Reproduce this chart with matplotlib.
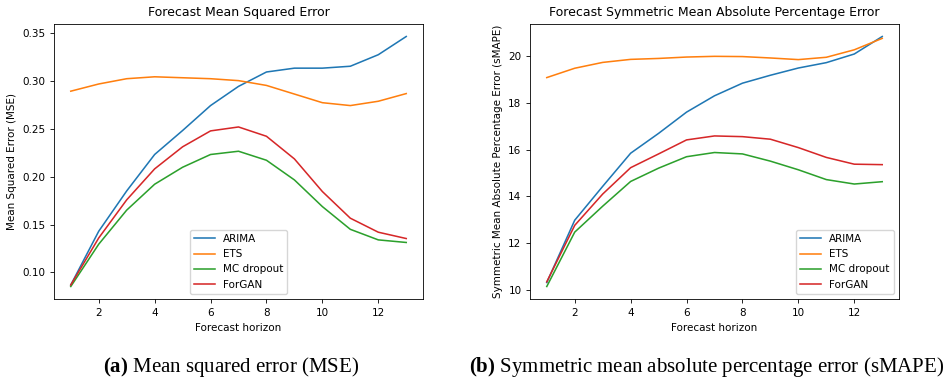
import numpy as np
import matplotlib.pyplot as plt

horizon = np.arange(1, 14)

# MSE per forecast horizon
mse_arima = [0.087, 0.143, 0.185, 0.223, 0.248, 0.274, 0.294, 0.309, 0.313, 0.313, 0.315, 0.327, 0.346]
mse_ets = [0.289, 0.2965, 0.302, 0.304, 0.303, 0.302, 0.300, 0.295, 0.286, 0.277, 0.274, 0.2785, 0.2865]
mse_mc = [0.0854, 0.1295, 0.165, 0.192, 0.2097, 0.223, 0.2264, 0.217, 0.1965, 0.1687, 0.145, 0.134, 0.1313]
mse_forgan = [0.087, 0.136, 0.1757, 0.208, 0.231, 0.2476, 0.2517, 0.242, 0.2184, 0.1844, 0.1566, 0.142, 0.1354]

# sMAPE per forecast horizon
smape_arima = [10.31, 12.98, 14.43, 15.85, 16.7, 17.61, 18.31, 18.85, 19.19, 19.5, 19.73, 20.1, 20.85]
smape_ets = [19.09, 19.49, 19.74, 19.87, 19.91, 19.97, 20.0, 19.99, 19.93, 19.86, 19.96, 20.28, 20.77]
smape_mc = [10.14, 12.47, 13.58, 14.64, 15.21, 15.7, 15.88, 15.82, 15.51, 15.14, 14.72, 14.53, 14.63]
smape_forgan = [10.34, 12.76, 14.1, 15.23, 15.82, 16.42, 16.59, 16.56, 16.45, 16.09, 15.67, 15.38, 15.36]

labels = ['ARIMA', 'ETS', 'MC dropout', 'ForGAN']

s = 0.75
plt.rcParams['font.size'] = 10 * s
plt.rcParams['lines.linewidth'] = 1.5 * s
plt.rcParams['axes.linewidth'] = 0.8 * s
plt.rcParams['xtick.major.size'] = 3.5 * s
plt.rcParams['ytick.major.size'] = 3.5 * s
plt.rcParams['xtick.major.width'] = 0.8 * s
plt.rcParams['ytick.major.width'] = 0.8 * s
plt.rcParams['mathtext.fontset'] = 'custom'
plt.rcParams['mathtext.rm'] = 'Liberation Serif'
plt.rcParams['mathtext.bf'] = 'Liberation Serif:bold'

fig = plt.figure(figsize=(9.49, 3.79), dpi=100)
ax1 = fig.add_axes([54/949, 80/379, 369/949, 275/379])
ax2 = fig.add_axes([530/949, 80/379, 369/949, 275/379])

for series, lab in zip([mse_arima, mse_ets, mse_mc, mse_forgan], labels):
    ax1.plot(horizon, series, label=lab)
ax1.set_title('Forecast Mean Squared Error', fontsize=12 * s)
ax1.set_xlabel('Forecast horizon')
ax1.set_ylabel('Mean Squared Error (MSE)')
ax1.set_yticks([0.10, 0.15, 0.20, 0.25, 0.30, 0.35])
ax1.legend(loc='lower center')

for series, lab in zip([smape_arima, smape_ets, smape_mc, smape_forgan], labels):
    ax2.plot(horizon, series, label=lab)
ax2.set_title('Forecast Symmetric Mean Absolute Percentage Error', fontsize=12 * s)
ax2.set_xlabel('Forecast horizon')
ax2.set_ylabel('Symmetric Mean Absolute Percentage Error (sMAPE)')
ax2.legend(loc='lower right')

#captions under the panels
fig.text(231/949, 7/379, r'$\mathbf{(a)}$ Mean squared error (MSE)', ha='center', va='baseline',
         fontsize=15, family='Liberation Serif')
fig.text(707/949, 7/379, r'$\mathbf{(b)}$ Symmetric mean absolute percentage error (sMAPE)', ha='center',
         va='baseline', fontsize=15, family='Liberation Serif')

fig.savefig('out.png', dpi=100)
